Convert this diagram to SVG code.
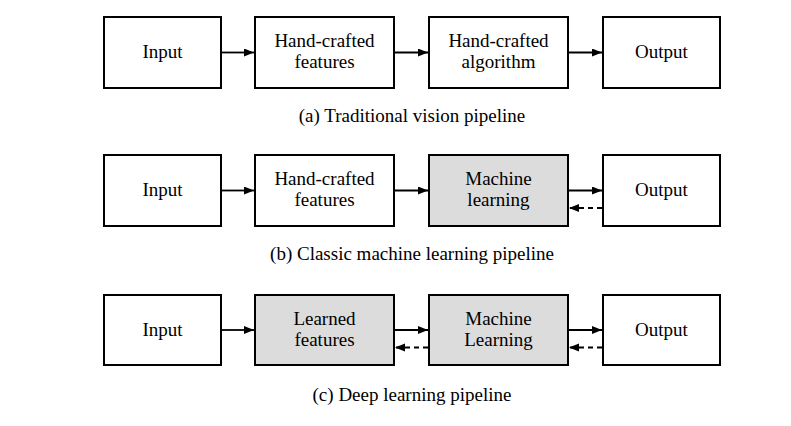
<svg xmlns="http://www.w3.org/2000/svg" width="791" height="426" viewBox="0 0 791 426">
<style>
.box{fill:#fff;stroke:#000;stroke-width:2}
.gray{fill:#dcdcdc}
text{font-family:"Liberation Serif","Times New Roman",serif;font-size:19px;fill:#000;text-anchor:middle}
.ln{stroke:#000;stroke-width:1.8;fill:none;marker-end:url(#ah)}
.dash{stroke-dasharray:5,4}
</style>
<defs>
<marker id="ah" markerUnits="userSpaceOnUse" markerWidth="11" markerHeight="9" refX="10" refY="4" orient="auto">
<path d="M0,0 L10,4 L0,8 z" fill="#000"/>
</marker>
</defs>
<rect width="791" height="426" fill="#fff"/>
<!-- Row a -->
<g id="a-input"><rect class="box" x="104" y="17" width="117" height="71"/><text x="162.5" y="58">Input</text></g>
<g id="a-features"><rect class="box" x="255" y="17" width="139" height="71"/><text x="324.5" y="47">Hand-crafted</text><text x="324.5" y="67.5">features</text></g>
<g id="a-algorithm"><rect class="box" x="429" y="17" width="139" height="71"/><text x="498.5" y="47">Hand-crafted</text><text x="498.5" y="67.5">algorithm</text></g>
<g id="a-output"><rect class="box" x="603" y="17" width="117" height="71"/><text x="661.5" y="58">Output</text></g>
<text id="cap-a" x="412" y="122">(a) Traditional vision pipeline</text>
<!-- Row b -->
<g id="b-input"><rect class="box" x="104" y="155" width="117" height="71"/><text x="162.5" y="196">Input</text></g>
<g id="b-features"><rect class="box" x="255" y="155" width="139" height="71"/><text x="324.5" y="185">Hand-crafted</text><text x="324.5" y="205.5">features</text></g>
<g id="b-ml"><rect class="box gray" x="429" y="155" width="139" height="71"/><text x="498.5" y="185">Machine</text><text x="498.5" y="205.5">learning</text></g>
<g id="b-output"><rect class="box" x="603" y="155" width="117" height="71"/><text x="661.5" y="196">Output</text></g>
<text id="cap-b" x="412" y="260">(b) Classic machine learning pipeline</text>
<!-- Row c -->
<g id="c-input"><rect class="box" x="104" y="295" width="117" height="70"/><text x="162.5" y="336">Input</text></g>
<g id="c-features"><rect class="box gray" x="255" y="295" width="139" height="70"/><text x="324.5" y="325">Learned</text><text x="324.5" y="345.5">features</text></g>
<g id="c-ml"><rect class="box gray" x="429" y="295" width="139" height="70"/><text x="498.5" y="325">Machine</text><text x="498.5" y="345.5">Learning</text></g>
<g id="c-output"><rect class="box" x="603" y="295" width="117" height="70"/><text x="661.5" y="336">Output</text></g>
<text id="cap-c" x="412" y="401">(c) Deep learning pipeline</text>
<g id="connectors">
<line class="ln" x1="222" y1="52.5" x2="254" y2="52.5"/>
<line class="ln" x1="395" y1="52.5" x2="428" y2="52.5"/>
<line class="ln" x1="569" y1="52.5" x2="602" y2="52.5"/>
<line class="ln" x1="222" y1="190.5" x2="254" y2="190.5"/>
<line class="ln" x1="395" y1="190.5" x2="428" y2="190.5"/>
<line class="ln" x1="569" y1="190.5" x2="602" y2="190.5"/>
<line class="ln dash" x1="602" y1="208" x2="569" y2="208"/>
<line class="ln" x1="222" y1="330" x2="254" y2="330"/>
<line class="ln" x1="395" y1="330" x2="428" y2="330"/>
<line class="ln dash" x1="428" y1="347.5" x2="395" y2="347.5"/>
<line class="ln" x1="569" y1="330" x2="602" y2="330"/>
<line class="ln dash" x1="602" y1="347.5" x2="569" y2="347.5"/>
</g>
</svg>
